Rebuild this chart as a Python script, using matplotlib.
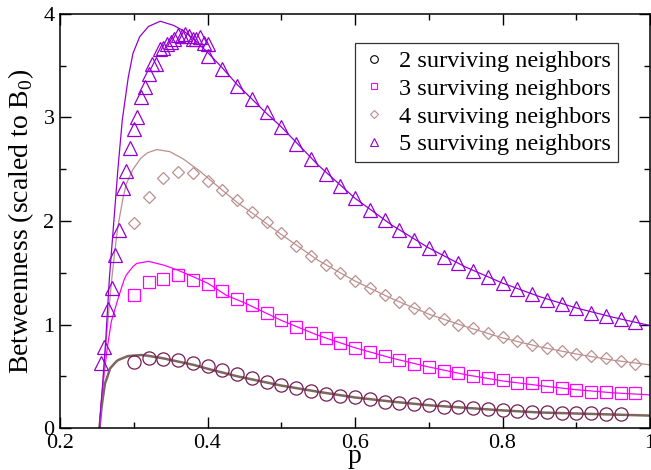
import matplotlib
matplotlib.use("Agg")
import matplotlib.pyplot as plt
from matplotlib.lines import Line2D
from matplotlib.ticker import MultipleLocator

plt.rcParams["font.family"] = "serif"
plt.rcParams["font.serif"] = ["Liberation Serif", "DejaVu Serif"]
plt.rcParams["mathtext.fontset"] = "custom"
plt.rcParams["mathtext.rm"] = "Liberation Serif"

# simulation points
p_circ = [0.30, 0.32, 0.34, 0.36, 0.38, 0.40, 0.42, 0.44, 0.46, 0.48, 0.50, 0.52,
          0.54, 0.56, 0.58, 0.60, 0.62, 0.64, 0.66, 0.68, 0.70, 0.72, 0.74, 0.76,
          0.78, 0.80, 0.82, 0.84, 0.86, 0.88, 0.90, 0.92, 0.94, 0.96]
b_circ = [0.635, 0.673, 0.67, 0.66, 0.63, 0.60, 0.56, 0.525, 0.48, 0.447, 0.415,
          0.383, 0.36, 0.328, 0.309, 0.296, 0.277, 0.254, 0.246, 0.232, 0.222,
          0.206, 0.20, 0.19, 0.18, 0.174, 0.167, 0.157, 0.155, 0.148, 0.142,
          0.142, 0.135, 0.132]

p_sq = [0.30, 0.32, 0.34, 0.36, 0.38, 0.40, 0.42, 0.44, 0.46, 0.48, 0.50, 0.52,
        0.54, 0.56, 0.58, 0.60, 0.62, 0.64, 0.66, 0.68, 0.70, 0.72, 0.74, 0.76,
        0.78, 0.80, 0.82, 0.84, 0.86, 0.88, 0.90, 0.92, 0.94, 0.96, 0.98]
b_sq = [1.285, 1.41, 1.44, 1.48, 1.43, 1.39, 1.32, 1.245, 1.19, 1.11, 1.04, 0.98,
        0.92, 0.867, 0.82, 0.77, 0.73, 0.696, 0.657, 0.618, 0.586, 0.553, 0.528,
        0.50, 0.48, 0.464, 0.438, 0.43, 0.406, 0.383, 0.367, 0.35, 0.35, 0.34,
        0.335]

p_dia = p_sq
b_dia = [1.98, 2.23, 2.42, 2.47, 2.46, 2.39, 2.30, 2.20, 2.09, 1.99, 1.88, 1.76,
         1.66, 1.575, 1.495, 1.42, 1.35, 1.285, 1.215, 1.156, 1.11, 1.05, 0.995,
         0.963, 0.915, 0.876, 0.843, 0.80, 0.77, 0.747, 0.715, 0.696, 0.673,
         0.65, 0.618]

p_tri = [0.255, 0.26, 0.265, 0.27, 0.275, 0.28, 0.285, 0.29, 0.295, 0.30, 0.305,
         0.31, 0.315, 0.32, 0.325, 0.33, 0.335, 0.34, 0.345, 0.35, 0.355, 0.36,
         0.365, 0.37, 0.375, 0.38, 0.385, 0.39, 0.395, 0.40,
         0.40, 0.42, 0.44, 0.46, 0.48, 0.50, 0.52, 0.54, 0.56, 0.58, 0.60, 0.62,
         0.64, 0.66, 0.68, 0.70, 0.72, 0.74, 0.76, 0.78, 0.80, 0.82, 0.84, 0.86,
         0.88, 0.90, 0.92, 0.94, 0.96, 0.98]
b_tri = [0.63, 0.78, 1.15, 1.35, 1.67, 1.91, 2.32, 2.48, 2.71, 2.89, 3.00, 3.20,
         3.29, 3.42, 3.52, 3.52, 3.66, 3.67, 3.71, 3.73, 3.76, 3.80, 3.79, 3.81,
         3.79, 3.76, 3.76, 3.78, 3.72, 3.71,
         3.59, 3.47, 3.30, 3.18, 3.05, 2.905, 2.74, 2.60, 2.45, 2.34, 2.22, 2.11,
         2.01, 1.91, 1.82, 1.74, 1.65, 1.59, 1.52, 1.46, 1.40, 1.34, 1.295, 1.24,
         1.20, 1.156, 1.11, 1.08, 1.05, 1.02]

# theory curves
p_l2 = [0.2535, 0.2565, 0.258, 0.261, 0.265, 0.268, 0.276, 0.279, 0.292, 0.31,
        0.3175, 0.34, 0.381, 0.403, 0.44, 0.50, 0.55, 0.60, 0.65, 0.70, 0.75,
        0.80, 0.85, 0.90, 0.95, 1.0]
b_l2 = [0.0, 0.21, 0.287, 0.43, 0.51, 0.577, 0.64, 0.657, 0.695, 0.705, 0.70,
        0.673, 0.61, 0.567, 0.50, 0.41, 0.35, 0.295, 0.255, 0.22, 0.195, 0.17,
        0.15, 0.14, 0.13, 0.12]

p_l3 = [0.2538, 0.256, 0.2597, 0.264, 0.2696, 0.2787, 0.2868, 0.29, 0.299, 0.304,
        0.32, 0.34, 0.358, 0.381, 0.40, 0.426, 0.45, 0.50, 0.55, 0.60, 0.65,
        0.70, 0.75, 0.80, 0.85, 0.90, 0.95, 1.0]
b_l3 = [0.0, 0.25, 0.51, 0.77, 1.03, 1.25, 1.43, 1.48, 1.56, 1.59, 1.61, 1.575,
        1.53, 1.46, 1.40, 1.28, 1.21, 1.04, 0.895, 0.775, 0.675, 0.59, 0.515,
        0.455, 0.41, 0.37, 0.34, 0.32]

p_l4 = [0.2535, 0.257, 0.262, 0.266, 0.2705, 0.274, 0.2786, 0.2854, 0.29, 0.299,
        0.31, 0.319, 0.331, 0.349, 0.367, 0.39, 0.408, 0.44, 0.46, 0.50, 0.55,
        0.60, 0.65, 0.70, 0.75, 0.80, 0.85, 0.90, 0.95, 1.0]
b_l4 = [0.0, 0.32, 0.78, 1.12, 1.46, 1.69, 1.95, 2.22, 2.36, 2.50, 2.61, 2.66,
        2.69, 2.67, 2.60, 2.48, 2.37, 2.18, 2.08, 1.87, 1.62, 1.42, 1.25, 1.10,
        0.98, 0.87, 0.785, 0.715, 0.655, 0.61]

p_l5 = [0.2535, 0.2545, 0.2578, 0.262, 0.267, 0.2725, 0.2785, 0.2845, 0.2926,
        0.299, 0.308, 0.32, 0.336, 0.354, 0.367, 0.38, 0.40, 0.42, 0.44, 0.46,
        0.48, 0.50, 0.55, 0.60, 0.65, 0.70, 0.75, 0.80, 0.85, 0.90, 0.95, 1.0]
b_l5 = [0.0, 0.12, 0.42, 0.85, 1.45, 1.95, 2.50, 2.98, 3.39, 3.62, 3.78, 3.88,
        3.93, 3.89, 3.84, 3.765, 3.63, 3.48, 3.32, 3.18, 3.04, 2.91, 2.54, 2.22,
        1.96, 1.74, 1.555, 1.40, 1.27, 1.16, 1.07, 0.99]

labels = ["2 surviving neighbors", "3 surviving neighbors",
          "4 surviving neighbors", "5 surviving neighbors"]

c2, c2_line = "#741c52", "#7d675c"
c3 = "#ff00ff"
c4 = "#bc8f8f"
c5 = "#9400d3"

fig = plt.figure(figsize=(6.51, 4.70), dpi=100)
ax = fig.add_axes([60 / 651, 1 - 428 / 470, 590 / 651, 414 / 470])

ax.plot(p_l2, b_l2, "-", color=c2_line, lw=1.8, zorder=2)
ax.plot(p_l3, b_l3, "-", color=c3, lw=0.9, zorder=2)
ax.plot(p_l4, b_l4, "-", color=c4, lw=0.9, zorder=2)
ax.plot(p_l5, b_l5, "-", color=c5, lw=0.9, zorder=2)

mk = dict(linestyle="none", markerfacecolor="none", markeredgewidth=0.9, zorder=3)
ax.plot(p_circ, b_circ, marker="o", markersize=9.5, markeredgecolor=c2, **mk)
ax.plot(p_sq, b_sq, marker="s", markersize=8, markeredgecolor=c3, **mk)
ax.plot(p_dia, b_dia, marker="D", markersize=6.5, markeredgecolor=c4, **mk)
ax.plot(p_tri, b_tri, marker="^", markersize=10, markeredgecolor=c5, **mk)

ax.set_xlim(0.2, 1.0)
ax.set_ylim(0, 4)
ax.xaxis.set_major_locator(MultipleLocator(0.2))
ax.xaxis.set_minor_locator(MultipleLocator(0.1))
ax.yaxis.set_major_locator(MultipleLocator(1))
ax.yaxis.set_minor_locator(MultipleLocator(0.5))
ax.xaxis.set_major_formatter(plt.FuncFormatter(lambda v, _: f"{v:g}"))
ax.yaxis.set_major_formatter(plt.FuncFormatter(lambda v, _: f"{v:g}"))
ax.tick_params(which="both", direction="in", top=True, right=True, width=1.0,
               labelsize=16)
ax.tick_params(which="major", length=8)
ax.tick_params(which="minor", length=4)
ax.tick_params(axis="x", pad=4)
ax.tick_params(axis="y", pad=4)
for s in ax.spines.values():
    s.set_linewidth(1.1)

ax.set_xlabel("p", fontsize=20, labelpad=-6)
ax.set_ylabel(r"Betweenness (scaled to B$_0$)", fontsize=20, labelpad=5)

handles = [
    Line2D([], [], ls="none", marker="o", ms=5.5, mfc="none", mec="black", mew=0.8),
    Line2D([], [], ls="none", marker="s", ms=5, mfc="none", mec=c3, mew=0.8),
    Line2D([], [], ls="none", marker="D", ms=4, mfc="none", mec=c4, mew=0.8),
    Line2D([], [], ls="none", marker="^", ms=6, mfc="none", mec=c5, mew=0.8),
]
leg = ax.legend(handles, labels, loc="upper left", bbox_to_anchor=(355 / 651, 1 - 43 / 470),
                bbox_transform=fig.transFigure, fontsize=17.5, frameon=True, fancybox=False,
                edgecolor="black", borderaxespad=0, handlelength=1.0, handletextpad=0.5,
                labelspacing=0.23, borderpad=0.3)
leg.get_frame().set_linewidth(0.9)

fig.savefig("out.png", dpi=100)
